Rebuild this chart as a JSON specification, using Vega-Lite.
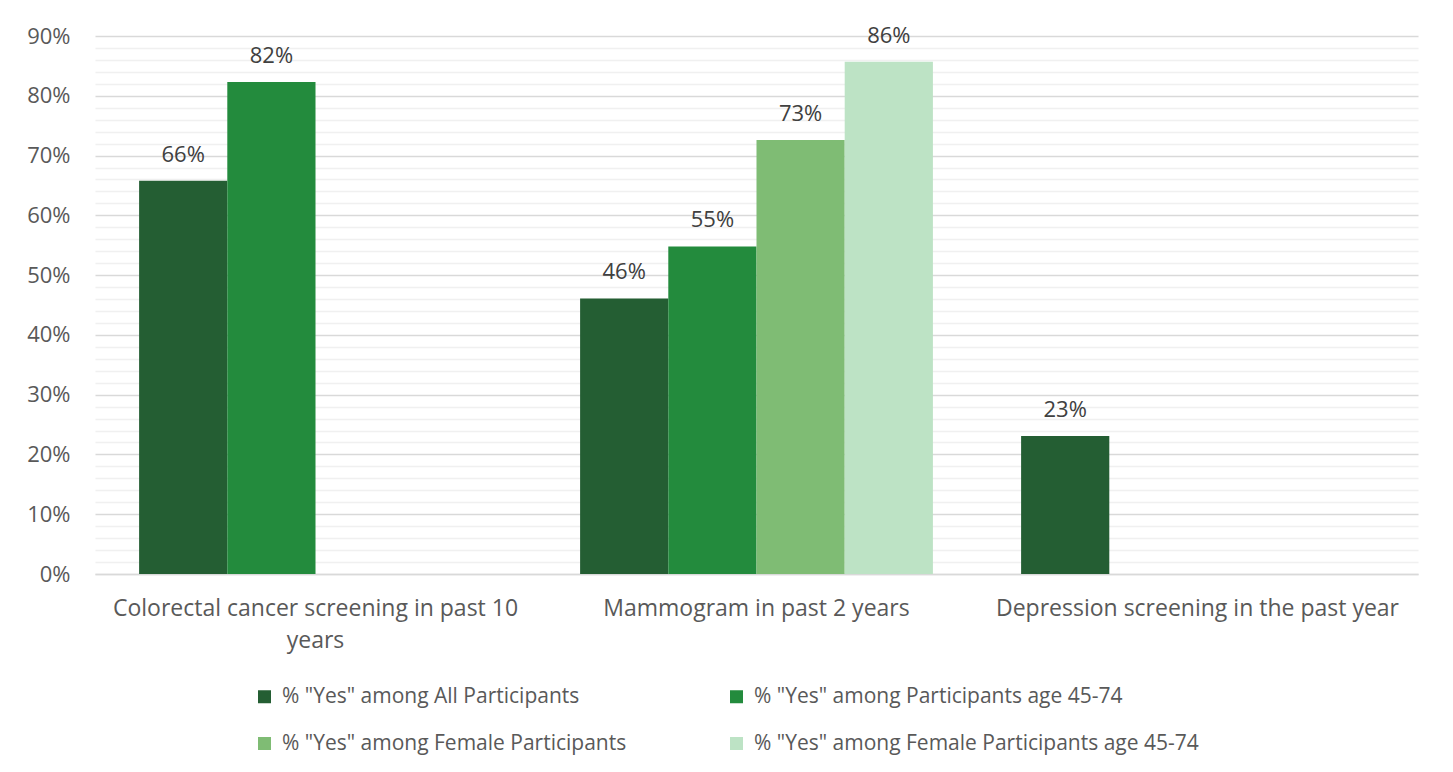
{
  "$schema": "https://vega.github.io/schema/vega-lite/v6.json",
  "width": 1323,
  "height": 538,
  "autosize": {"type": "none"},
  "padding": {"left": 95, "top": 36, "right": 35, "bottom": 198},
  "background": "#ffffff",
  "config": {
    "font": "Open Sans",
    "view": {"stroke": null}
  },
  "data": {
    "values": [
      {"category": "Colorectal cancer screening in past 10 years", "series": "% \"Yes\" among All Participants", "value": 0.658},
      {"category": "Colorectal cancer screening in past 10 years", "series": "% \"Yes\" among Participants age 45-74", "value": 0.823},
      {"category": "Mammogram in past 2 years", "series": "% \"Yes\" among All Participants", "value": 0.461},
      {"category": "Mammogram in past 2 years", "series": "% \"Yes\" among Participants age 45-74", "value": 0.548},
      {"category": "Mammogram in past 2 years", "series": "% \"Yes\" among Female Participants", "value": 0.726},
      {"category": "Mammogram in past 2 years", "series": "% \"Yes\" among Female Participants age 45-74", "value": 0.857},
      {"category": "Depression screening in the past year", "series": "% \"Yes\" among All Participants", "value": 0.231}
    ]
  },
  "encoding": {
    "x": {
      "field": "category",
      "type": "nominal",
      "sort": ["Colorectal cancer screening in past 10 years", "Mammogram in past 2 years", "Depression screening in the past year"],
      "scale": {"paddingInner": 0, "paddingOuter": 0},
      "axis": {
        "title": null,
        "labelAngle": 0,
        "ticks": false,
        "domainColor": "#d9d9d9",
        "domainWidth": 1.5,
        "labelFontSize": 23,
        "labelColor": "#595959",
        "labelPadding": 23,
        "labelLimit": 1000,
        "labelLineHeight": 32,
        "labelExpr": "datum.value == 'Colorectal cancer screening in past 10 years' ? ['Colorectal cancer screening in past 10', 'years'] : datum.value"
      }
    },
    "xOffset": {
      "field": "series",
      "type": "nominal",
      "scale": {
        "domain": ["% \"Yes\" among All Participants", "% \"Yes\" among Participants age 45-74", "% \"Yes\" among Female Participants", "% \"Yes\" among Female Participants age 45-74"],
        "paddingInner": 0,
        "paddingOuter": 0.5
      }
    }
  },
  "layer": [
    {
      "mark": {"type": "bar"},
      "encoding": {
        "y": {
          "field": "value",
          "type": "quantitative",
          "scale": {"domain": [0, 0.9], "nice": false},
          "axis": {
            "title": null,
            "values": [0, 0.02, 0.04, 0.06, 0.08, 0.1, 0.12, 0.14, 0.16, 0.18, 0.2, 0.22, 0.24, 0.26, 0.28, 0.3, 0.32, 0.34, 0.36, 0.38, 0.4, 0.42, 0.44, 0.46, 0.48, 0.5, 0.52, 0.54, 0.56, 0.58, 0.6, 0.62, 0.64, 0.66, 0.68, 0.7, 0.72, 0.74, 0.76, 0.78, 0.8, 0.82, 0.84, 0.86, 0.88, 0.9],
            "tickCount": 100,
            "labelExpr": "round(datum.value * 100) % 10 == 0 ? format(datum.value, '.0%') : ''",
            "labelOverlap": false,
            "labelFlush": false,
            "domain": false,
            "ticks": false,
            "labelFontSize": 22,
            "labelColor": "#595959",
            "labelPadding": 25,
            "grid": true,
            "gridColor": {"condition": {"test": "round(datum.value * 100) % 10 == 0", "value": "#d9d9d9"}, "value": "#f0f0f0"},
            "gridWidth": 1.5
          }
        },
        "color": {
          "field": "series",
          "type": "nominal",
          "scale": {
            "domain": ["% \"Yes\" among All Participants", "% \"Yes\" among Participants age 45-74", "% \"Yes\" among Female Participants", "% \"Yes\" among Female Participants age 45-74"],
            "range": ["#245e33", "#238b3d", "#7fbc74", "#bde3c5"]
          },
          "legend": {
            "title": null,
            "orient": "none",
            "legendX": 159,
            "legendY": 650,
            "direction": "horizontal",
            "columns": 2,
            "columnPadding": 99,
            "rowPadding": 25,
            "symbolType": "square",
            "symbolSize": 169,
            "symbolStrokeWidth": 0,
            "labelFontSize": 21,
            "labelColor": "#595959",
            "labelLimit": 600,
            "labelOffset": 7
          }
        }
      }
    },
    {
      "mark": {"type": "text", "baseline": "bottom", "dy": -14, "fontSize": 22, "color": "#404040"},
      "encoding": {
        "y": {"field": "value", "type": "quantitative"},
        "text": {"field": "value", "type": "quantitative", "format": ".0%"}
      }
    }
  ]
}
